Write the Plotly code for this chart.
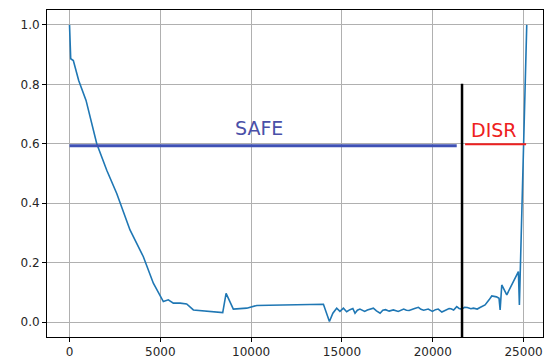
import plotly.graph_objects as go

# Main series
xs = [0, 66, 210, 505, 910, 1500, 2050, 2600, 3330, 4065, 4615, 5165, 5440, 5716,
      6090, 6450, 6820, 7550, 8435, 8620, 9020, 9760, 10310, 11000, 11590, 12300, 13000, 13980,
      14310, 14500, 14710, 14890, 15080, 15260, 15440, 15600, 15720, 15850, 15990, 16250, 16400,
      16500, 16730, 16900, 17100, 17250, 17400, 17600, 17830, 18100, 18400, 18550, 18700, 19000,
      19210, 19350, 19500, 19750, 19980, 20150, 20300, 20500, 20720, 20900, 21000, 21150, 21320,
      21450, 21600, 21750, 21900, 22100, 22240, 22450, 22600, 22880, 23100, 23250, 23510, 23650,
      23710, 23800, 24075, 24400, 24715, 24770, 24990, 25175]
ys = [1.0, 0.886, 0.880, 0.813, 0.746, 0.60, 0.511, 0.433, 0.31, 0.22, 0.131, 0.069, 0.075, 0.064,
      0.064, 0.061, 0.041, 0.036, 0.032, 0.097, 0.044, 0.047, 0.056, 0.057, 0.058, 0.058, 0.059, 0.060,
      0.002, 0.030, 0.047, 0.036, 0.047, 0.035, 0.042, 0.046, 0.030, 0.040, 0.044, 0.036, 0.041,
      0.043, 0.047, 0.038, 0.030, 0.040, 0.042, 0.037, 0.041, 0.036, 0.044, 0.040, 0.039, 0.046,
      0.050, 0.043, 0.040, 0.044, 0.036, 0.042, 0.044, 0.034, 0.040, 0.046, 0.045, 0.041, 0.052,
      0.046, 0.044, 0.050, 0.049, 0.045, 0.047, 0.044, 0.049, 0.058, 0.075, 0.088, 0.085, 0.080,
      0.041, 0.125, 0.092, 0.130, 0.170, 0.058, 0.545, 1.0]

safe_x = [0, 21320]
safe_y = [0.593, 0.593]
disr_x = [21780, 25140]
disr_y = [0.598, 0.598]
vline_x = [21612, 21612]
vline_y = [-0.06, 0.802]

x_ticks = [0, 5000, 10000, 15000, 20000, 25000]
y_ticks = [0.0, 0.2, 0.4, 0.6, 0.8, 1.0]

fig = go.Figure()
fig.add_trace(go.Scatter(x=xs, y=ys, mode="lines", line=dict(color="#1f77b4", width=1.6)))
fig.add_trace(go.Scatter(x=safe_x, y=safe_y, mode="lines", line=dict(color="#3f51b5", width=3)))
fig.add_trace(go.Scatter(x=disr_x, y=disr_y, mode="lines",
                         line=dict(color="#ee2020", width=2)))
fig.add_trace(go.Scatter(x=vline_x, y=vline_y, mode="lines", line=dict(color="black", width=2.5)))

fig.add_annotation(x=10408, y=0.654, text="SAFE", showarrow=False,
                   font=dict(family="DejaVu Sans", size=19, color="#4a50a8"))
fig.add_annotation(x=23375, y=0.648, text="DISR", showarrow=False,
                   font=dict(family="DejaVu Sans", size=19, color="#ee2020"))

axis_common = dict(showline=True, mirror=True, linecolor="black", linewidth=1,
                   showgrid=True, gridcolor="#b0b0b0", gridwidth=1, zeroline=False,
                   ticks="outside", ticklen=4, tickcolor="black", automargin=False,
                   tickfont=dict(family="DejaVu Sans", size=12, color="#262626"))
fig.update_xaxes(range=[-1240, 26070], tickvals=x_ticks, tickformat="d", **axis_common)
fig.update_yaxes(range=[-0.05, 1.05], tickvals=y_ticks, tickformat=".1f", **axis_common)

fig.update_layout(width=544, height=362, showlegend=False,
                  margin=dict(l=47, r=1, t=10, b=25),
                  plot_bgcolor="white", paper_bgcolor="white")
fig.write_html("out.html", config={"displayModeBar": False})

with open("out.html", "r", encoding="utf-8") as f:
    html = f.read()
html = html.replace("<head>", "<head><style>html,body{margin:0;padding:0;overflow:hidden;}</style>", 1)
with open("out.html", "w", encoding="utf-8") as f:
    f.write(html)
